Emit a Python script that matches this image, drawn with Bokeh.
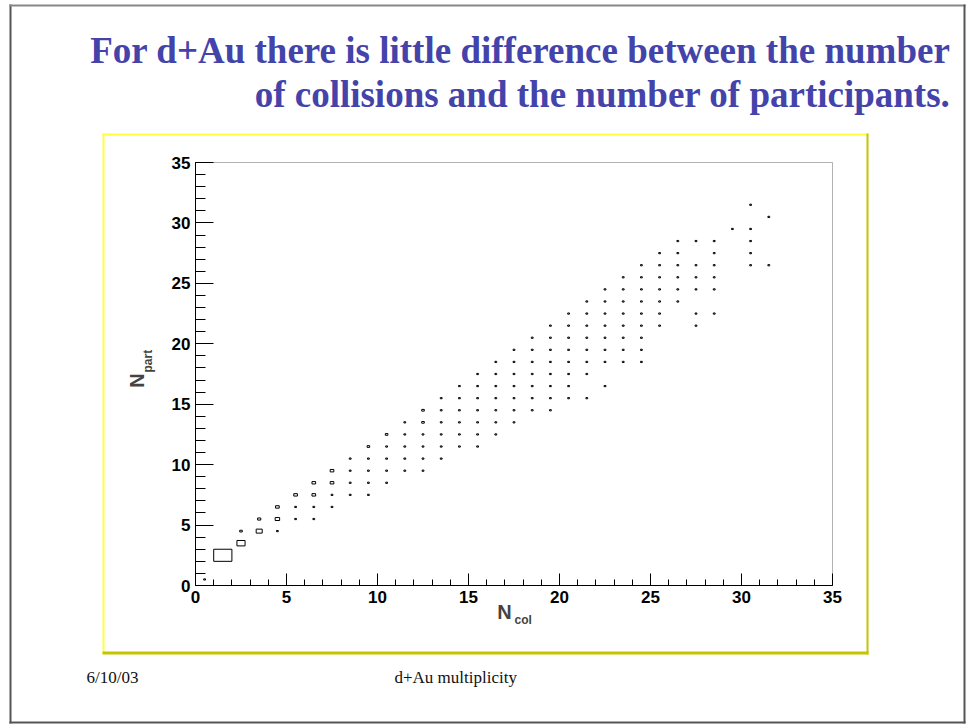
import math
from bokeh.plotting import figure
from bokeh.models import (Range1d, SingleIntervalTicker, Label, BoxAnnotation,
                          ColumnDataSource, LinearAxis)
from bokeh.embed import file_html
from bokeh.resources import INLINE

# ---------------- data ----------------
title_line1 = "For d+Au there is little difference between the number"
title_line2 = "of collisions and the number of participants."
footer_date = "6/10/03"
footer_text = "d+Au multiplicity"
x_label_main, x_label_sub = "N", "col"
y_label_main, y_label_sub = "N", "part"
axis_min, axis_max, tick_step = 0, 35, 5

# N_col bin centres and the N_part bin centres filled in each column
ncol_bins = [0.5, 1.5, 2.5, 3.5, 4.5, 5.5, 6.5, 7.5, 8.5, 9.5, 10.5, 11.5, 12.5,
             13.5, 14.5, 15.5, 16.5, 17.5, 18.5, 19.5, 20.5, 21.5, 22.5, 23.5,
             24.5, 25.5, 26.5, 27.5, 28.5, 29.5, 30.5, 31.5]
npart_by_col = [
    [0.5],
    [2.5],
    [3.5, 4.5],
    [4.5, 5.5],
    [4.5, 5.5, 6.5],
    [5.5, 6.5, 7.5],
    [5.5, 6.5, 7.5, 8.5],
    [6.5, 7.5, 8.5, 9.5],
    [7.5, 8.5, 9.5, 10.5],
    [7.5, 8.5, 9.5, 10.5, 11.5],
    [8.5, 9.5, 10.5, 11.5, 12.5],
    [9.5, 10.5, 11.5, 12.5, 13.5],
    [9.5, 10.5, 11.5, 12.5, 13.5, 14.5],
    [10.5, 11.5, 12.5, 13.5, 14.5, 15.5],
    [11.5, 12.5, 13.5, 14.5, 15.5, 16.5],
    [11.5, 12.5, 13.5, 14.5, 15.5, 16.5, 17.5],
    [12.5, 13.5, 14.5, 15.5, 16.5, 17.5, 18.5],
    [13.5, 14.5, 15.5, 16.5, 17.5, 18.5, 19.5],
    [14.5, 15.5, 16.5, 17.5, 18.5, 19.5, 20.5],
    [14.5, 15.5, 16.5, 17.5, 18.5, 19.5, 20.5, 21.5],
    [15.5, 16.5, 17.5, 18.5, 19.5, 20.5, 21.5, 22.5],
    [15.5, 17.5, 18.5, 19.5, 20.5, 21.5, 22.5, 23.5],
    [16.5, 18.5, 19.5, 20.5, 21.5, 22.5, 23.5, 24.5],
    [18.5, 19.5, 20.5, 21.5, 22.5, 23.5, 24.5, 25.5],
    [18.5, 19.5, 20.5, 21.5, 22.5, 23.5, 24.5, 25.5, 26.5],
    [21.5, 22.5, 23.5, 24.5, 25.5, 26.5, 27.5],
    [23.5, 24.5, 25.5, 26.5, 27.5, 28.5],
    [21.5, 22.5, 24.5, 25.5, 26.5, 28.5],
    [22.5, 24.5, 25.5, 26.5, 27.5, 28.5],
    [29.5],
    [26.5, 27.5, 28.5, 29.5, 31.5],
    [26.5, 30.5],
]
# relative cell contents (cells not listed hold 1)
cell_counts = {
    (1.5, 2.5): 100, (2.5, 3.5): 20, (3.5, 4.5): 11, (4.5, 5.5): 6,
    (4.5, 6.5): 4, (5.5, 7.5): 4, (6.5, 7.5): 4, (6.5, 8.5): 4,
    (7.5, 8.5): 4, (7.5, 9.5): 4, (3.5, 5.5): 3, (2.5, 4.5): 2,
    (9.5, 11.5): 2, (10.5, 12.5): 2, (12.5, 13.5): 2, (12.5, 14.5): 2,
}

xs, ys, cs = [], [], []
for xc, col in zip(ncol_bins, npart_by_col):
    for yc in col:
        xs.append(xc)
        ys.append(yc)
        cs.append(cell_counts.get((xc, yc), 1))
cmax = max(cs)
sizes = [math.sqrt(c / cmax) for c in cs]
src = ColumnDataSource(dict(x=xs, y=ys, s=sizes))

# ---------------- layout (page pixels) ----------------
W, H = 968, 725
BOX_L, BOX_R, BOX_T, BOX_B = 195, 832, 162, 585   # histogram frame on the page
kx = (BOX_R - BOX_L) / (axis_max - axis_min)
ky = (BOX_B - BOX_T) / (axis_max - axis_min)
x_range = Range1d(axis_min - BOX_L / kx, axis_min + (W - BOX_L) / kx)
y_range = Range1d(axis_min - (H - BOX_B) / ky, axis_min + BOX_B / ky)

p = figure(width=W, height=H, x_range=x_range, y_range=y_range,
           output_backend="svg", toolbar_location=None,
           x_axis_location=None, y_axis_location=None, min_border=0)
p.background_fill_color = "white"
p.border_fill_color = "white"
p.outline_line_color = None
p.grid.visible = False

p.rect(x="x", y="y", width="s", height="s", source=src,
       fill_color=None, line_color="black", line_width=1)

# histogram frame (top/right lines)
p.add_layout(BoxAnnotation(left=axis_min, right=axis_max, bottom=axis_min, top=axis_max,
                           fill_color=None, line_color="black", line_width=1))

tick_font = "Liberation Sans"
xaxis = LinearAxis(fixed_location=axis_min, bounds=(axis_min, axis_max))
yaxis = LinearAxis(fixed_location=axis_min, bounds=(axis_min, axis_max))
p.add_layout(xaxis, "below")
p.add_layout(yaxis, "left")
for ax, maj, mnr in ((xaxis, 12, 6), (yaxis, 18, 10)):
    ax.ticker = SingleIntervalTicker(interval=tick_step, num_minor_ticks=5)
    ax.major_tick_in = maj
    ax.major_tick_out = 0
    ax.minor_tick_in = mnr
    ax.minor_tick_out = 0
    ax.axis_line_color = "black"
    ax.major_tick_line_color = "black"
    ax.minor_tick_line_color = "black"
    ax.major_label_text_font = tick_font
    ax.major_label_text_font_style = "bold"
    ax.major_label_text_font_size = "17px"
    ax.major_label_text_color = "black"
    ax.major_label_standoff = 5
yaxis.major_label_orientation = "horizontal"

# page px -> screen units (origin bottom-left of canvas)
def sx(px):
    return px
def sy(py):
    return H - py

def label(px, py, text, **kw):
    p.add_layout(Label(x=sx(px), y=sy(py), x_units="screen", y_units="screen",
                       text=text, text_baseline="middle", **kw))

# axis titles
label(504, 611, x_label_main, text_font=tick_font, text_font_style="bold",
      text_font_size="20px", text_align="center")
label(514, 619, x_label_sub, text_font=tick_font, text_font_style="bold",
      text_font_size="12px", text_align="left")
label(136, 380, y_label_main, text_font=tick_font, text_font_style="bold",
      text_font_size="20px", text_align="center", angle=math.pi / 2)
label(147, 372, y_label_sub, text_font=tick_font, text_font_style="bold",
      text_font_size="12px", text_align="left", angle=math.pi / 2)

# slide title
title_color = "#4343AA"
label(950, 50, title_line1, text_font="Liberation Serif", text_font_style="bold",
      text_font_size="37px", text_align="right", text_color=title_color)
label(950, 94, title_line2, text_font="Liberation Serif", text_font_style="bold",
      text_font_size="37px", text_align="right", text_color=title_color)

# footer
label(86, 677, footer_date, text_font="Liberation Serif", text_font_size="17px",
      text_align="left", text_color="#111111")
label(394, 677, footer_text, text_font="Liberation Serif", text_font_size="17px",
      text_align="left", text_color="#111111")

# yellow panel frame (light top/left, dark bottom/right) and slide border
def edge(l, r, t, b, color):
    p.add_layout(BoxAnnotation(left=sx(l), right=sx(r), top=sy(t), bottom=sy(b),
                               left_units="screen", right_units="screen",
                               top_units="screen", bottom_units="screen",
                               fill_color=color, fill_alpha=1.0, line_color=None,
                               level="underlay"))
edge(102, 104, 133, 653, "#FFFF40")
edge(102, 868, 133, 135, "#FFFF40")
edge(866, 868, 133, 654, "#C4C400")
edge(102, 868, 651, 654, "#C4C400")

edge(9, 11, 4, 723, "#555555")
edge(9, 965, 4, 6, "#888888")
edge(963, 965, 4, 723, "#555555")
edge(9, 965, 721, 723, "#555555")

open("out.html", "w").write(file_html(p, INLINE))
